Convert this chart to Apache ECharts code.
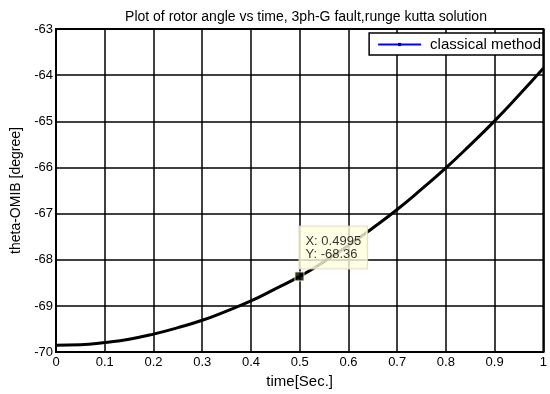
<!DOCTYPE html>
<html>
<head>
<meta charset="utf-8">
<script src="https://cdn.jsdelivr.net/npm/echarts@6/dist/echarts.min.js"></script>
<style>
	html, body { margin: 0; padding: 0; background: #fff; }
	#chart { width: 550px; height: 394px; }
</style>
</head>
<body>
<div id="chart"></div>
<script>
// time [s] and rotor angle [deg]
const timeValues = [0, 0.05, 0.1, 0.15, 0.2, 0.25, 0.3, 0.35, 0.4, 0.45, 0.5, 0.55, 0.6, 0.65, 0.7, 0.75, 0.8, 0.85, 0.9, 0.95, 1.0]
const thetaValues = [-69.85, -69.84, -69.79, -69.72, -69.61, -69.47, -69.31, -69.11, -68.89, -68.63, -68.36, -68.04, -67.69, -67.31, -66.91, -66.47, -66.01, -65.51, -64.99, -64.43, -63.85]
const dataTip = [0.4995, -68.36]
const xTicks = ['0', '0.1', '0.2', '0.3', '0.4', '0.5', '0.6', '0.7', '0.8', '0.9', '1']

const chart = echarts.init(document.getElementById('chart'))

const font = 'Liberation Sans, Arial, sans-serif'

const option = {
	animation: false,
	title: {
		text: 'Plot of rotor angle vs time, 3ph-G fault,runge kutta solution',
		left: 301,
		textAlign: 'center',
		top: 5,
		textStyle: { fontFamily: font, fontSize: 14, fontWeight: 'normal', color: '#000' }
	},
	grid: {
		left: 56,
		right: 2,
		top: 29,
		bottom: 41,
		show: true,
		borderColor: '#000',
		borderWidth: 2
	},
	legend: {
		data: ['classical method'],
		right: 7,
		top: 33,
		orient: 'vertical',
		backgroundColor: '#fff',
		borderColor: '#000',
		borderWidth: 1.5,
		padding: [4, 2, 3, 8],
		itemWidth: 43,
		itemHeight: 4,
		itemGap: 0,
		textStyle: { fontFamily: font, fontSize: 15, color: '#000', padding: [0, 0, 0, 4] }
	},
	xAxis: {
		type: 'value',
		min: 0,
		max: 1,
		interval: 0.1,
		name: 'time[Sec.]',
		nameLocation: 'middle',
		nameGap: 18,
		nameTextStyle: { fontFamily: font, fontSize: 15, color: '#000' },
		axisLine: { lineStyle: { color: '#000', width: 2 } },
		axisTick: { show: false },
		axisLabel: {
			margin: 4,
			fontFamily: font,
			fontSize: 13,
			color: '#000',
			formatter: (v) => xTicks[Math.round(v * 10)]
		},
		splitLine: { lineStyle: { color: '#000', width: 1.5 } }
	},
	yAxis: {
		type: 'value',
		min: -70,
		max: -63,
		interval: 1,
		name: 'theta-OMIB [degree]',
		nameLocation: 'middle',
		nameGap: 29,
		nameTextStyle: { fontFamily: font, fontSize: 14, color: '#000' },
		axisLine: { lineStyle: { color: '#000', width: 2 } },
		axisTick: { show: false },
		axisLabel: { margin: 3, fontFamily: font, fontSize: 13, color: '#000' },
		splitLine: { lineStyle: { color: '#000', width: 1.5 } }
	},
	series: [
		{
			name: 'rotor angle',
			type: 'line',
			data: timeValues.map((t, i) => [t, thetaValues[i]]),
			showSymbol: false,
			smooth: true,
			lineStyle: { color: '#000', width: 3 },
			itemStyle: { color: '#000' },
			z: 3
		},
		{
			name: 'classical method',
			type: 'line',
			data: [],
			symbol: 'rect',
			symbolSize: 3,
			lineStyle: { color: '#0000ff', width: 1 },
			itemStyle: { color: '#000080' }
		},
		{
			name: 'data tip',
			type: 'scatter',
			data: [dataTip],
			symbol: 'rect',
			symbolSize: 9,
			itemStyle: { color: '#000', borderColor: '#ffffcc', borderWidth: 1 },
			label: {
				show: true,
				position: [5, -45],
				formatter: (p) => 'X: ' + p.value[0] + '\nY: ' + p.value[1],
				fontFamily: font,
				fontSize: 13,
				lineHeight: 13,
				color: '#000',
				backgroundColor: '#ffffe0',
				borderColor: '#d8d8b8',
				borderWidth: 1,
				padding: [9, 6, 7, 6]
			},
			z: 5
		}
	]
}

chart.setOption(option)
</script>
</body>
</html>
